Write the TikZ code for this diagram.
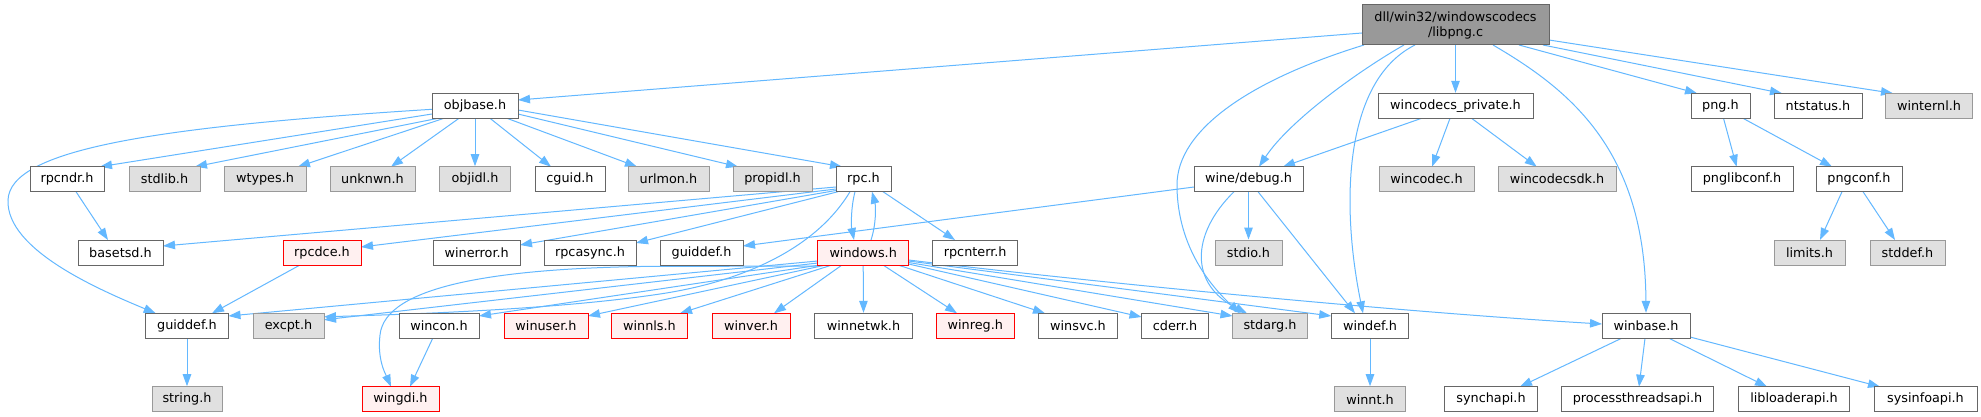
\documentclass[tikz,border=0pt]{standalone}
\usepackage{fontspec}
\setmainfont{DejaVu Sans}
\usetikzlibrary{calc,arrows.meta,backgrounds}
\definecolor{edgec}{HTML}{63B8FF}
\definecolor{bwhite}{HTML}{666666}
\definecolor{bgray}{HTML}{999999}
\definecolor{fgray}{HTML}{E0E0E0}
\definecolor{fred}{HTML}{FFF0F0}
\definecolor{froot}{HTML}{999999}
\tikzset{
  box/.style={rectangle, inner sep=0pt, minimum height=25pt, line width=1pt, font=\fontsize{12.8}{15}\selectfont, text=black},
  wbox/.style={box, draw=bwhite, fill=white},
  gbox/.style={box, draw=bgray, fill=fgray},
  rbox/.style={box, draw=red, fill=fred},
  rootbox/.style={box, draw=bwhite, fill=froot, minimum height=40pt, align=center},
  edge/.style={draw=edgec, line width=1pt, -{Triangle[length=12pt,width=8.5pt]}}
}
\begin{document}
\begin{tikzpicture}[x=1pt,y=-1pt]
\useasboundingbox (0,0) rectangle (1981,417);
% row 0
\node[rootbox, minimum width=187pt] (libpng) at (1455.5,25) {dll/win32/windowscodecs\\/libpng.c};
% row 1
\node[wbox, minimum width=86pt] (objbase) at (475,105.8) {objbase.h};
\node[wbox, minimum width=155pt] (wcp) at (1455.5,105.8) {wincodecs\_private.h};
\node[wbox, minimum width=59pt] (png) at (1720.5,105.8) {png.h};
\node[wbox, minimum width=88pt] (ntstatus) at (1818,105.8) {ntstatus.h};
\node[gbox, minimum width=87pt] (winternl) at (1929,105.8) {winternl.h};
% row 2
\node[wbox, minimum width=74pt] (rpcndr) at (67,179.2) {rpcndr.h};
\node[gbox, minimum width=71pt] (stdlib) at (164.5,179.2) {stdlib.h};
\node[gbox, minimum width=82pt] (wtypes) at (265,179.2) {wtypes.h};
\node[gbox, minimum width=85pt] (unknwn) at (372.5,179.2) {unknwn.h};
\node[gbox, minimum width=71pt] (objidl) at (475,179.2) {objidl.h};
\node[wbox, minimum width=70pt] (cguid) at (570,179.2) {cguid.h};
\node[gbox, minimum width=81pt] (urlmon) at (668.5,179.2) {urlmon.h};
\node[gbox, minimum width=79pt] (propidl) at (772.5,179.2) {propidl.h};
\node[wbox, minimum width=55pt] (rpc) at (863.5,179.2) {rpc.h};
\node[wbox, minimum width=109pt] (winedebug) at (1248.5,179.2) {wine/debug.h};
\node[gbox, minimum width=95pt] (wincodec) at (1426.5,179.2) {wincodec.h};
\node[gbox, minimum width=118pt] (wincodecsdk) at (1557,179.2) {wincodecsdk.h};
\node[wbox, minimum width=102pt] (pnglibconf) at (1742,179.2) {pnglibconf.h};
\node[wbox, minimum width=86pt] (pngconf) at (1859,179.2) {pngconf.h};
% row 3
\node[wbox, minimum width=85pt] (basetsd) at (120.5,252.5) {basetsd.h};
\node[rbox, minimum width=78pt] (rpcdce) at (322,252.5) {rpcdce.h};
\node[wbox, minimum width=86.6pt] (winerror) at (476.7,252.5) {winerror.h};
\node[wbox, minimum width=92pt] (rpcasync) at (590,252.5) {rpcasync.h};
\node[wbox, minimum width=83pt] (guiddefA) at (701.5,252.5) {guiddef.h};
\node[rbox, minimum width=90.6pt] (windows) at (863.2,252.5) {windows.h};
\node[wbox, minimum width=84.6pt] (rpcnterr) at (975.2,252.5) {rpcnterr.h};
\node[gbox, minimum width=67pt] (stdio) at (1248.5,252.5) {stdio.h};
\node[gbox, minimum width=71pt] (limits) at (1809.5,252.5) {limits.h};
\node[gbox, minimum width=75pt] (stddef) at (1907.5,252.5) {stddef.h};
% row 4
\node[wbox, minimum width=83pt] (guiddefB) at (187,325.8) {guiddef.h};
\node[gbox, minimum width=71pt] (excpt) at (288.5,325.8) {excpt.h};
\node[wbox, minimum width=80pt] (wincon) at (439,325.8) {wincon.h};
\node[rbox, minimum width=84pt] (winuser) at (546,325.8) {winuser.h};
\node[rbox, minimum width=76pt] (winnls) at (649.5,325.8) {winnls.h};
\node[rbox, minimum width=78pt] (winver) at (751,325.8) {winver.h};
\node[wbox, minimum width=97.4pt] (winnetwk) at (863.5,325.8) {winnetwk.h};
\node[rbox, minimum width=78.6pt] (winreg) at (975.3,325.8) {winreg.h};
\node[wbox, minimum width=79pt] (winsvc) at (1078,325.8) {winsvc.h};
\node[wbox, minimum width=67pt] (cderr) at (1175,325.8) {cderr.h};
\node[gbox, minimum width=75pt] (stdarg) at (1270,325.8) {stdarg.h};
\node[wbox, minimum width=77.6pt] (windef) at (1370,325.8) {windef.h};
\node[wbox, minimum width=88pt] (winbase) at (1646,325.8) {winbase.h};
% row 5
\node[gbox, minimum width=70pt] (string) at (187,399.2) {string.h};
\node[rbox, minimum width=77pt] (wingdi) at (400.5,399.2) {wingdi.h};
\node[gbox, minimum width=70.6pt] (winnt) at (1370,399.2) {winnt.h};
\node[wbox, minimum width=92.6pt] (synchapi) at (1491,399.2) {synchapi.h};
\node[wbox, minimum width=152pt] (pta) at (1637.5,399.2) {processthreadsapi.h};
\node[wbox, minimum width=111pt] (libloader) at (1794,399.2) {libloaderapi.h};
\node[wbox, minimum width=103pt] (sysinfo) at (1925.5,399.2) {sysinfoapi.h};

\begin{pgfonlayer}{background}
\fill[white] (0,0) rectangle (1981,417);
% libpng.c
\draw[edge] ($(libpng)+(-93.5,8)$) -- ($(objbase)+(43,-5.8)$);
\draw[edge] ($(libpng)+(-51.5,20)$) .. controls (1360,70) and (1290,120) .. ($(winedebug)+(10.5,-12.5)$);
\draw[edge] (libpng.south) -- (wcp.north);
\draw[edge] ($(libpng)+(63.5,20)$) -- ($(png)+(-23.5,-12.5)$);
\draw[edge] ($(libpng)+(87.5,20)$) -- ($(ntstatus)+(-36,-12.5)$);
\draw[edge] ($(libpng)+(93.5,15)$) -- ($(winternl)+(-36,-12.5)$);
\draw[edge] ($(libpng)+(37.5,20)$) .. controls (1570,90) and (1645,150) .. (winbase.north);
\draw[edge] ($(libpng)+(-40.5,20)$) .. controls (1345,80) and (1340,200) .. ($(windef)+(-7,-12.5)$);
\draw[edge] ($(libpng)+(-91.5,20)$) .. controls (1250,80) and (1177,130) .. (1177,185) .. controls (1177,250) and (1215,290) .. ($(stdarg)+(-30,-12.5)$);
% objbase.h
\draw[edge] ($(objbase)+(-43,3.5)$) .. controls (150,127) and (10,150) .. (8,200) .. controls (6,250) and (100,290) .. ($(guiddefB)+(-31.3,-12.5)$);
\draw[edge] ($(objbase)+(-43,8.2)$) -- ($(rpcndr)+(33,-12.5)$);
\draw[edge] ($(objbase)+(-37,12.5)$) -- ($(stdlib)+(30.5,-12.5)$);
\draw[edge] ($(objbase)+(-31,12.5)$) -- ($(wtypes)+(33,-12.5)$);
\draw[edge] ($(objbase)+(-16,12.5)$) -- ($(unknwn)+(18.5,-12.5)$);
\draw[edge] (objbase.south) -- (objidl.north);
\draw[edge] ($(objbase)+(15,12.5)$) -- ($(cguid)+(-19,-12.5)$);
\draw[edge] ($(objbase)+(32,12.5)$) -- ($(urlmon)+(-31.5,-12.5)$);
\draw[edge] ($(objbase)+(43,8.2)$) -- ($(propidl)+(-34.5,-12.5)$);
\draw[edge] ($(objbase)+(43,4.2)$) -- ($(rpc)+(-21.5,-12.5)$);
% rpcndr.h
\draw[edge] ($(rpcndr)+(9,12.5)$) -- ($(basetsd)+(-12.5,-12.5)$);
% rpc.h
\draw[edge] ($(rpc)+(-27.5,7.8)$) -- ($(basetsd)+(42.5,-6.5)$);
\draw[edge] ($(rpc)+(-27.5,9.8)$) -- ($(rpcdce)+(39,-5.5)$);
\draw[edge] ($(rpc)+(-27.5,11.3)$) -- ($(winerror)+(43.3,-7.5)$);
\draw[edge] ($(rpc)+(-25.5,12.5)$) -- ($(rpcasync)+(46,-9.5)$);
\draw[edge] ($(rpc)+(-8.5,12.5)$) .. controls (851,207) and (851,225) .. ($(windows)+(-9.2,-12.5)$);
\draw[edge] ($(rpc)+(19.5,12.5)$) -- ($(rpcnterr)+(-20.2,-12.5)$);
\draw[edge] ($(rpc)+(-13.5,12.5)$) .. controls (815,250) and (740,282) .. (660,294) .. controls (560,309) and (420,314) .. ($(excpt)+(35.5,-9)$);
% windows.h
\draw[edge] ($(windows)+(7.8,-12.5)$) .. controls (876,225) and (876,207) .. ($(rpc)+(8.5,12.5)$);
\draw[edge] ($(windows)+(-45.3,8.5)$) -- ($(guiddefB)+(41.5,-9.8)$);
\draw[edge] ($(windows)+(-45.3,10.5)$) -- ($(excpt)+(35.5,-6)$);
\draw[edge] ($(windows)+(-43.2,12.5)$) -- ($(wincon)+(40,-9.8)$);
\draw[edge] ($(windows)+(-37.2,12.5)$) -- ($(winuser)+(42,-9.8)$);
\draw[edge] ($(windows)+(-31.2,12.5)$) -- ($(winnls)+(30.5,-12.5)$);
\draw[edge] ($(windows)+(-21.2,12.5)$) -- ($(winver)+(23,-12.5)$);
\draw[edge] (windows.south) -- (winnetwk.north);
\draw[edge] ($(windows)+(19.8,12.5)$) -- ($(winreg)+(-18.3,-12.5)$);
\draw[edge] ($(windows)+(34.8,12.5)$) -- ($(winsvc)+(-33,-12.5)$);
\draw[edge] ($(windows)+(45.3,11.5)$) -- ($(cderr)+(-33.5,-8.8)$);
\draw[edge] ($(windows)+(45.3,10)$) -- ($(stdarg)+(-37.5,-9.8)$);
\draw[edge] ($(windows)+(45.3,8.5)$) -- ($(windef)+(-38.8,-9.8)$);
\draw[edge] ($(windows)+(45.3,7.5)$) .. controls (1100,283) and (1400,312) .. ($(winbase)+(-44,-1.8)$);
\draw[edge] ($(windows)+(-45.2,13.5)$) -- (640,266.5) .. controls (500,269) and (385,285) .. (380,335) .. controls (377,360) and (386,375) .. ($(wingdi)+(-9.5,-12.5)$);
% wine/debug.h
\draw[edge] ($(winedebug)+(-54.5,7.8)$) -- ($(guiddefA)+(41.5,-6.5)$);
\draw[edge] (winedebug.south) -- (stdio.north);
\draw[edge] ($(winedebug)+(-14.5,12.5)$) .. controls (1190,235) and (1190,285) .. ($(stdarg)+(-23,-12.5)$);
\draw[edge] ($(winedebug)+(9.5,12.5)$) -- ($(windef)+(-15,-12.5)$);
% wincodecs_private.h
\draw[edge] ($(wcp)+(-33.9,12.5)$) -- ($(winedebug)+(34.5,-12.5)$);
\draw[edge] ($(wcp)+(-5.5,12.5)$) -- ($(wincodec)+(5.5,-12.5)$);
\draw[edge] ($(wcp)+(16.1,12.5)$) -- ($(wincodecsdk)+(-20.3,-12.5)$);
% png.h, pngconf.h
\draw[edge] ($(png)+(3,12.5)$) -- ($(pnglibconf)+(-5.4,-12.5)$);
\draw[edge] ($(png)+(22.5,12.5)$) -- ($(pngconf)+(-27,-12.5)$);
\draw[edge] ($(pngconf)+(-17,12.5)$) -- ($(limits)+(10.5,-12.5)$);
\draw[edge] ($(pngconf)+(4,12.5)$) -- ($(stddef)+(-12.5,-12.5)$);
% windef.h, winbase.h
\draw[edge] (windef.south) -- (winnt.north);
\draw[edge] ($(winbase)+(-24.5,12.5)$) -- ($(synchapi)+(29,-12.5)$);
\draw[edge] ($(winbase)+(-1,12.5)$) -- ($(pta)+(1.5,-12.5)$);
\draw[edge] ($(winbase)+(23,12.5)$) -- ($(libloader)+(-27,-12.5)$);
\draw[edge] ($(winbase)+(44,11.2)$) -- ($(sysinfo)+(-45.5,-12.5)$);
% others
\draw[edge] ($(rpcdce)+(-22,12.5)$) -- ($(guiddefB)+(25,-12.5)$);
\draw[edge] (guiddefB.south) -- (string.north);
\draw[edge] ($(wincon)+(-6.3,12.5)$) -- ($(wingdi)+(9.5,-12.5)$);
\end{pgfonlayer}
\end{tikzpicture}
\end{document}
